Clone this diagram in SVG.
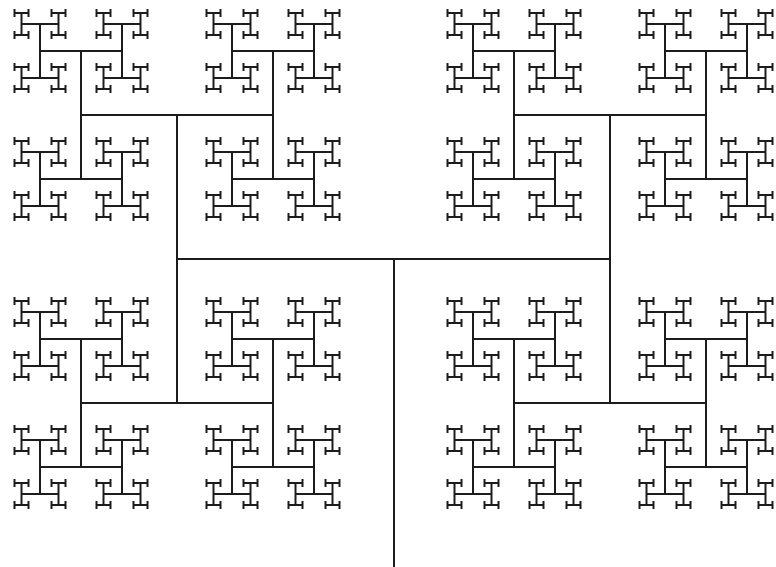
<svg xmlns="http://www.w3.org/2000/svg" width="776" height="567" viewBox="0 0 776 567">
<style>path{fill:none;stroke:#1c1c1c;stroke-width:2}</style>
<rect width="776" height="567" fill="#ffffff"/>
<defs>
<g id="t10"><path d="M0-4V4"/></g>
<g id="t9"><path d="M-7 0H7"/><use href="#t10" x="-7"/><use href="#t10" x="7"/></g>
<g id="t8"><path d="M0-11V11"/><use href="#t9" y="-11"/><use href="#t9" y="11"/></g>
<g id="t7"><path d="M-18.5 0H18.5"/><use href="#t8" x="-18.5"/><use href="#t8" x="18.5"/></g>
<g id="t6"><path d="M0-27V27"/><use href="#t7" y="-27"/><use href="#t7" y="27"/></g>
<g id="t5"><path d="M-41 0H41"/><use href="#t6" x="-41"/><use href="#t6" x="41"/></g>
<g id="t4"><path d="M0-64V64"/><use href="#t5" y="-64"/><use href="#t5" y="64"/></g>
<g id="t3"><path d="M-96 0H96"/><use href="#t4" x="-96"/><use href="#t4" x="96"/></g>
<g id="t2"><path d="M0-144V144"/><use href="#t3" y="-144"/><use href="#t3" y="144"/></g>
</defs>
<g id="connectors">
<path d="M394 567V259M177 259H610"/>
<use href="#t2" x="177" y="259"/>
<use href="#t2" x="610" y="259"/>
</g>
</svg>
